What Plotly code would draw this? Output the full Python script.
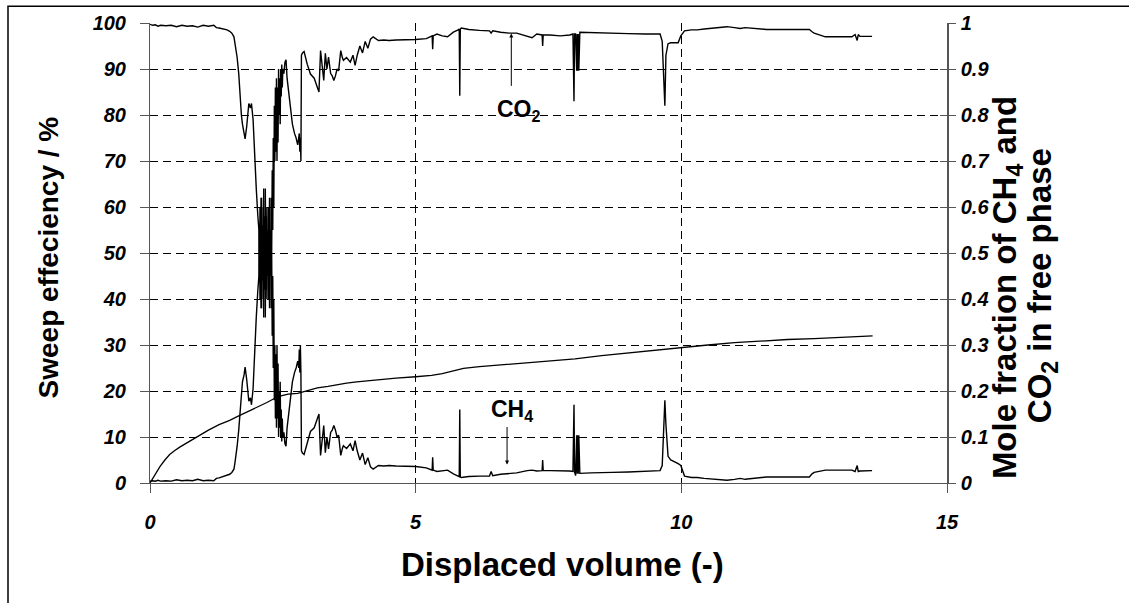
import plotly.graph_objects as go

# ---------------- data ----------------
disp_gas = [0, 0.05, 0.1, 0.15, 0.2, 0.3, 0.4, 0.5, 0.6, 0.7, 0.8, 0.9, 1.0, 1.1, 1.2, 1.25, 1.3, 1.35, 1.4, 1.45,
            1.5, 1.54, 1.58, 1.6, 1.62, 1.64, 1.67, 1.7, 1.72, 1.74, 1.77, 1.79, 1.82, 1.84, 1.86, 1.89, 1.91, 1.94, 1.96, 1.975,
            2.0, 2.03,
            2.05, 2.06, 2.07, 2.08, 2.09, 2.10, 2.11, 2.12, 2.13, 2.14, 2.15, 2.16, 2.17, 2.18, 2.19, 2.20, 2.21, 2.22, 2.23, 2.24,
            2.25, 2.26, 2.27, 2.28, 2.29, 2.30, 2.31, 2.32, 2.33, 2.34, 2.35, 2.36, 2.37, 2.38,
            2.39, 2.40, 2.41, 2.42, 2.43, 2.44, 2.45, 2.46, 2.47, 2.48, 2.49, 2.50, 2.52, 2.54, 2.56, 2.58, 2.6, 2.62, 2.65, 2.68,
            2.72, 2.75, 2.78, 2.8, 2.81, 2.82, 2.83, 2.84, 2.85, 2.87, 2.9,
            2.96, 3.02, 3.09, 3.15, 3.18, 3.21, 3.24, 3.27, 3.3, 3.33, 3.36, 3.4, 3.43, 3.46, 3.49, 3.52, 3.55, 3.59, 3.62, 3.64,
            3.7, 3.74, 3.77, 3.82, 3.86, 3.9, 3.95, 4.0, 4.05, 4.1, 4.15, 4.2, 4.3, 4.4, 4.5, 4.63,
            4.8, 5.0, 5.2, 5.25, 5.31, 5.32, 5.33, 5.4, 5.5, 5.6, 5.71, 5.8, 5.82, 5.83, 5.84, 5.86, 6.0, 6.2, 6.39, 6.42,
            6.45, 6.6, 6.76, 6.9, 7.1, 7.19, 7.28, 7.38, 7.39, 7.40, 7.53, 7.72, 7.9, 7.96, 7.98, 7.99, 8.01, 8.03, 8.04, 8.05,
            8.06, 8.07, 8.09, 8.3, 8.46, 8.7, 9.0, 9.32, 9.55, 9.6, 9.64, 9.67, 9.69, 9.71, 9.75, 9.8, 9.88, 9.94, 9.99, 10.06,
            10.19,
            10.3, 10.43, 10.6, 10.86, 11.0, 11.11, 11.2, 11.42, 11.6, 12.0, 12.41, 12.46, 12.5, 12.71, 13.0, 13.21, 13.27, 13.31,
            13.33, 13.36, 13.59]

co2_frac = [0.997, 0.995, 0.996, 0.993, 0.995, 0.994, 0.995, 0.992, 0.995, 0.993, 0.994, 0.991, 0.995, 0.993, 0.995, 0.99,
            0.989, 0.988, 0.987, 0.985, 0.982, 0.978, 0.97, 0.955, 0.94, 0.925, 0.89, 0.83, 0.8, 0.78, 0.765, 0.748, 0.775,
            0.805, 0.825, 0.815, 0.825, 0.79, 0.73, 0.69, 0.64, 0.58,
            0.55, 0.44, 0.6, 0.47, 0.62, 0.38, 0.56, 0.44, 0.6, 0.36, 0.52, 0.42, 0.64, 0.48, 0.58, 0.4, 0.55, 0.46, 0.6, 0.5,
            0.38, 0.55, 0.45, 0.62, 0.5, 0.68, 0.55, 0.75, 0.6, 0.82, 0.7, 0.86, 0.72, 0.88,
            0.7, 0.86, 0.74, 0.9, 0.8, 0.88, 0.78, 0.9, 0.84, 0.91, 0.86, 0.9, 0.89, 0.915, 0.92, 0.88, 0.86, 0.84, 0.8, 0.78,
            0.76, 0.75, 0.735, 0.75, 0.76, 0.72, 0.75, 0.7, 0.93, 0.935, 0.938,
            0.91, 0.889, 0.88, 0.858, 0.85, 0.94, 0.904, 0.875, 0.934, 0.9, 0.926, 0.89, 0.885, 0.875, 0.885, 0.9, 0.896, 0.94,
            0.925, 0.919, 0.925, 0.92, 0.915, 0.93, 0.908, 0.93, 0.95, 0.935, 0.96, 0.945, 0.965, 0.97, 0.962, 0.963, 0.962, 0.963,
            0.963, 0.964, 0.966, 0.968, 0.972, 0.943, 0.972, 0.976, 0.972, 0.97, 0.98, 0.985, 0.987, 0.842, 0.987, 0.989, 0.986,
            0.984, 0.983, 0.978, 0.983, 0.98, 0.978, 0.978, 0.972, 0.968, 0.976, 0.974, 0.95, 0.974, 0.974, 0.972, 0.974, 0.976,
            0.83, 0.976, 0.976, 0.896, 0.976, 0.896, 0.976, 0.896, 0.98, 0.979, 0.979, 0.978, 0.977, 0.976, 0.976, 0.976, 0.96,
            0.89, 0.82, 0.93, 0.955, 0.957, 0.957, 0.957, 0.972, 0.983, 0.985,
            0.985, 0.987, 0.989, 0.992, 0.99, 0.988, 0.99, 0.987, 0.986, 0.986, 0.986, 0.981, 0.978, 0.97, 0.97, 0.97, 0.975,
            0.962, 0.975, 0.971, 0.971]

ch4_frac = [0.004, 0.005, 0.004, 0.006, 0.004, 0.005, 0.004, 0.007, 0.005, 0.006, 0.005, 0.008, 0.005, 0.006, 0.005, 0.01,
            0.011, 0.013, 0.014, 0.016, 0.019, 0.023, 0.03, 0.045, 0.06, 0.08, 0.115, 0.17, 0.2, 0.22, 0.235, 0.252, 0.225,
            0.195, 0.178, 0.185, 0.17, 0.205, 0.27, 0.31, 0.36, 0.42,
            0.45, 0.56, 0.4, 0.53, 0.38, 0.62, 0.44, 0.56, 0.4, 0.64, 0.48, 0.58, 0.36, 0.52, 0.42, 0.6, 0.45, 0.54, 0.4, 0.5,
            0.62, 0.45, 0.55, 0.38, 0.5, 0.32, 0.45, 0.25, 0.4, 0.18, 0.3, 0.14, 0.28, 0.12,
            0.3, 0.14, 0.26, 0.1, 0.2, 0.12, 0.22, 0.1, 0.16, 0.09, 0.14, 0.1, 0.11, 0.085, 0.08, 0.12, 0.14, 0.16, 0.2, 0.22,
            0.24, 0.25, 0.265, 0.25, 0.29, 0.24, 0.3, 0.24, 0.07, 0.065, 0.062,
            0.09, 0.112, 0.12, 0.142, 0.15, 0.06, 0.096, 0.125, 0.066, 0.1, 0.074, 0.11, 0.115, 0.125, 0.115, 0.1, 0.104, 0.06,
            0.075, 0.081, 0.075, 0.08, 0.085, 0.07, 0.092, 0.07, 0.05, 0.065, 0.04, 0.055, 0.035, 0.03, 0.038, 0.037, 0.038, 0.037,
            0.037, 0.036, 0.033, 0.031, 0.028, 0.056, 0.028, 0.025, 0.027, 0.028, 0.02, 0.016, 0.014, 0.16, 0.013, 0.012, 0.014,
            0.015, 0.015, 0.025, 0.016, 0.019, 0.021, 0.022, 0.027, 0.028, 0.026, 0.027, 0.05, 0.027, 0.027, 0.027, 0.026, 0.025,
            0.17, 0.024, 0.016, 0.104, 0.02, 0.104, 0.02, 0.104, 0.021, 0.022, 0.022, 0.023, 0.024, 0.025, 0.026, 0.027, 0.038,
            0.12, 0.18, 0.127, 0.058, 0.05, 0.046, 0.042, 0.038, 0.015, 0.012,
            0.012, 0.01, 0.008, 0.006, 0.008, 0.01, 0.008, 0.011, 0.013, 0.013, 0.013, 0.02, 0.023, 0.028, 0.028, 0.028, 0.025,
            0.038, 0.025, 0.026, 0.027]

disp_sweep = [0, 0.1, 0.19, 0.28, 0.37, 0.46, 0.56, 0.75, 0.93, 1.1, 1.3, 1.5, 1.67, 1.85, 2.04, 2.2, 2.41, 2.6, 2.78, 3.0,
              3.15, 3.35, 3.52, 3.7, 3.89, 4.2, 4.63, 5.0, 5.3, 5.5, 5.7, 5.9, 6.2, 6.6, 7.0, 7.5, 8.0, 8.5, 9.0, 9.5,
              10.0, 10.5, 11.0, 11.5, 12.0, 12.5, 13.0, 13.6]
sweep_pct = [0, 2.0, 3.6, 5.0, 6.2, 7.0, 7.8, 9.1, 10.4, 11.5, 12.7, 13.6, 14.6, 15.6, 16.5, 17.5, 18.8, 19.3, 19.5, 20.2,
             20.7, 21.0, 21.4, 21.7, 22.0, 22.4, 22.8, 23.1, 23.4, 23.8, 24.4, 24.9, 25.3, 25.7, 26.0, 26.5, 27.0, 27.7, 28.3, 28.9,
             29.4, 30.0, 30.5, 30.9, 31.2, 31.4, 31.7, 32.0]

x_ticks = [0, 5, 10, 15]
y_left_ticks = list(range(0, 101, 10))
y_right_ticks = [0, 0.1, 0.2, 0.3, 0.4, 0.5, 0.6, 0.7, 0.8, 0.9, 1]
y_right_labels = ["0", "0.1", "0.2", "0.3", "0.4", "0.5", "0.6", "0.7", "0.8", "0.9", "1"]

# ---------------- figure ----------------
W, H = 1129, 603
L, R, T, B = 150, 182, 18, 120
PW, PH = W - L - R, H - T - B

def px(xp):
    return (xp - L) / PW

def py(yp):
    return (H - B - yp) / PH

FONT = "Liberation Sans, Arial, sans-serif"
tickfont = dict(family=FONT, size=20, color="black", weight="bold", style="italic")
LINE_C = "black"
AXIS_C = "#555555"
GRID_DASH = "8px,5px"

fig = go.Figure()
fig.add_trace(go.Scatter(x=disp_gas, y=co2_frac, yaxis="y2", mode="lines",
                         line=dict(color=LINE_C, width=1.4), name="CO2"))
fig.add_trace(go.Scatter(x=disp_gas, y=ch4_frac, yaxis="y2", mode="lines",
                         line=dict(color=LINE_C, width=1.4), name="CH4"))
fig.add_trace(go.Scatter(x=disp_sweep, y=sweep_pct, yaxis="y", mode="lines",
                         line=dict(color=LINE_C, width=1.3), name="Sweep"))
fig.add_trace(go.Scatter(x=[None], y=[None], yaxis="y3", showlegend=False))

fig.update_layout(
    width=W, height=H,
    margin=dict(l=L, r=R, t=T, b=B, pad=0),
    paper_bgcolor="white", plot_bgcolor="white",
    showlegend=False,
    xaxis=dict(range=[0, 15], tickvals=x_ticks, ticktext=[str(v) for v in x_ticks],
               showline=True, linecolor=AXIS_C, linewidth=1,
               ticks="outside", ticklen=9, tickcolor=AXIS_C, tickwidth=1,
               showgrid=True, gridcolor="black", gridwidth=1, griddash=GRID_DASH,
               zeroline=False, tickfont=tickfont, ticklabelstandoff=12),
    yaxis=dict(range=[0, 100], tickvals=y_left_ticks,
               showline=True, linecolor=AXIS_C, linewidth=1,
               ticks="outside", ticklen=9, tickcolor=AXIS_C, tickwidth=1,
               showgrid=True, gridcolor="black", gridwidth=1, griddash=GRID_DASH,
               zeroline=False, tickfont=tickfont, ticklabelstandoff=10),
    yaxis2=dict(range=[0, 1], overlaying="y", side="right", tickvals=y_right_ticks, ticktext=y_right_labels,
                showline=True, linecolor=AXIS_C, linewidth=1.5,
                ticks="outside", ticklen=7, tickcolor=AXIS_C, tickwidth=1,
                showgrid=False, zeroline=False, tickfont=tickfont, ticklabelstandoff=1),
    yaxis3=dict(range=[0, 1], overlaying="y", side="right", tickvals=y_right_ticks,
                showline=False, ticks="inside", ticklen=7, tickcolor=AXIS_C, tickwidth=1,
                showticklabels=False, showgrid=False, zeroline=False),
)

left_title_font = dict(family=FONT, size=28, color="black", weight="bold")
title_font = dict(family=FONT, size=33, color="black", weight="bold")
ann_font = dict(family=FONT, size=23, color="black", weight="bold")

annotations = [
    dict(text="Sweep effeciency / %", xref="paper", yref="paper", x=px(48), y=py(255),
         textangle=-90, showarrow=False, font=left_title_font, xanchor="center", yanchor="middle"),
    dict(text="Mole fraction of CH<sub>4</sub> and", xref="paper", yref="paper", x=px(1007), y=py(286),
         textangle=-90, showarrow=False, font=title_font, xanchor="center", yanchor="middle"),
    dict(text="CO<sub>2</sub> in free phase", xref="paper", yref="paper", x=px(1042), y=py(284),
         textangle=-90, showarrow=False, font=title_font, xanchor="center", yanchor="middle"),
    dict(text="Displaced volume (-)", xref="paper", yref="paper", x=px(562), y=py(565),
         showarrow=False, font=title_font, xanchor="center", yanchor="middle"),
    dict(text="CO<sub>2</sub>", xref="x", yref="y2", x=6.95, y=0.81, showarrow=False, font=ann_font),
    dict(text="CH<sub>4</sub>", xref="x", yref="y2", x=6.82, y=0.157, showarrow=False, font=ann_font),
    dict(text="", xref="x", yref="y2", x=6.8, y=0.977, axref="x", ayref="y2", ax=6.8, ay=0.86,
         showarrow=True, arrowhead=2, arrowsize=0.8, arrowwidth=1, arrowcolor="black"),
    dict(text="", xref="x", yref="y2", x=6.72, y=0.04, axref="x", ayref="y2", ax=6.72, ay=0.125,
         showarrow=True, arrowhead=2, arrowsize=0.8, arrowwidth=1, arrowcolor="black"),
]
fig.update_layout(annotations=annotations)

fig.add_shape(type="rect", xref="paper", yref="paper",
              x0=px(8), x1=px(1140), y0=py(610), y1=py(1),
              line=dict(color="black", width=1.5), fillcolor="rgba(0,0,0,0)", layer="below")

fig.write_html("out.html")
